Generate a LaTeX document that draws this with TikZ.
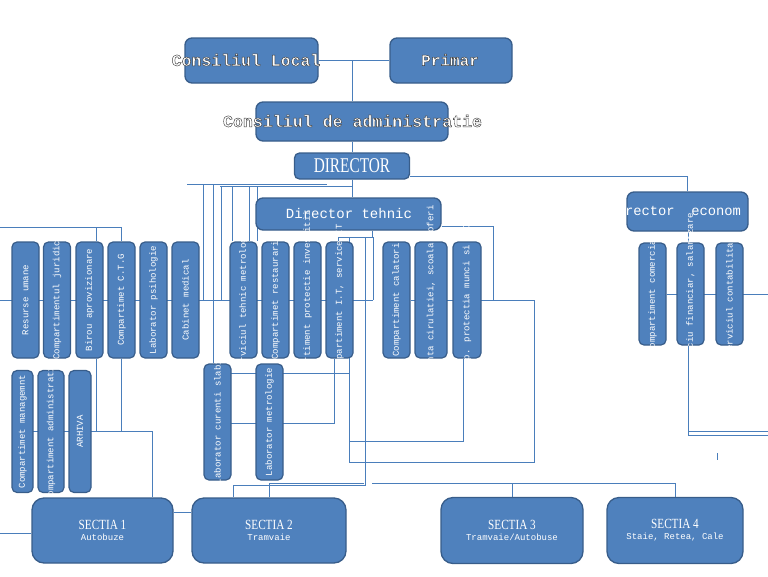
\documentclass[tikz,border=0pt]{standalone}
\usepackage{fontspec}
\usetikzlibrary{backgrounds}
\newfontfamily\monof{Liberation Mono}
\newfontfamily\condf[FakeStretch=0.73]{Liberation Serif}
\newfontfamily\sectf[FakeStretch=0.8]{Liberation Serif}
\definecolor{bfill}{HTML}{4F81BD}
\definecolor{bedge}{HTML}{385D8A}
\definecolor{lcol}{HTML}{4A7EBB}
\newcommand\olt[1]{\special{pdf:literal direct 2 Tr 0.45 w 0.25 0.25 0.25 RG}#1\special{pdf:literal direct 0 Tr}}
\newcommand\vlab[3]{\begin{scope}\clip ([xshift=-3pt]#1.south west) rectangle ([xshift=3pt,yshift=#2]#1.north east);\node[vlabel] at (#1) {#3};\end{scope}}
\begin{document}
\begin{tikzpicture}[x=1pt,y=-1pt,
  bigbox/.style={draw=bedge, fill=bfill, line width=1.3pt, rounded corners=7pt, inner sep=0pt, text=white},
  smallbox/.style={draw=bedge, fill=bfill, line width=1.2pt, rounded corners=5pt, inner sep=0pt},
  vlabel/.style={rotate=90, text=white, font=\monof\fontsize{9}{9}\selectfont, inner sep=0pt},
  conn/.style={draw=lcol, line width=0.9pt},
  titletext/.style={text=white, inner sep=0pt},
  sect/.style={bigbox, rounded corners=12pt, align=center}]
\useasboundingbox (0,0) rectangle (768,576);
% top boxes
\node[bigbox, minimum width=133pt, minimum height=45pt] (cl) at (251.5,60.5) {};
\node[titletext, font=\monof\bfseries\fontsize{16.5}{16.5}\selectfont] (cltxt) at (246,60) {\olt{Consiliul Local}};
\node[bigbox, minimum width=122pt, minimum height=45pt] (pr) at (451,60.5) {};
\node[titletext, font=\monof\bfseries\fontsize{16}{16}\selectfont] (prtxt) at (450,60) {\olt{Primar}};
\node[bigbox, minimum width=192pt, minimum height=39pt] (ca) at (352,121.5) {};
\node[titletext, font=\monof\bfseries\fontsize{16.6}{16.6}\selectfont] (catxt) at (352.5,121) {\olt{Consiliul de administratie}};
\node[bigbox, rounded corners=5pt, minimum width=115pt, minimum height=26pt, font=\condf\fontsize{21}{21}\selectfont] (dir) at (352,166) {DIRECTOR};
\node[bigbox, minimum width=185pt, minimum height=32pt] (dt) at (348.5,214) {};
\node[titletext, font=\monof\fontsize{14}{14}\selectfont] (dttxt) at (349,213) {Director tehnic};
\node[bigbox, minimum width=121pt, minimum height=39pt] (de) at (687.5,211.5) {};
\begin{scope}
\clip (627,180) rectangle (740,240);
\node[titletext, font=\monof\fontsize{13.8}{13.8}\selectfont] (detxt) at (683,211) {Director\ \ economic};
\end{scope}
% row 1
\foreach \n/\x in {r1/25.5, r2/57, r3/89.5, r4/121.5, r5/153.5, r6/185.5, r7/243.5, r8/275.5, r9/307.5, r10/339.5, r11/396.5}
  {\node[smallbox, minimum width=27pt, minimum height=116pt] (\n) at (\x,300) {};}
\node[smallbox, minimum width=32pt, minimum height=116pt] (r12) at (431,300) {};
\node[smallbox, minimum width=28pt, minimum height=116pt] (r13) at (467,300) {};
\foreach \n/\x in {r14/652.5, r15/690.5, r16/729.5}
  {\node[smallbox, minimum width=27pt, minimum height=102pt] (\n) at (\x,294) {};}
\vlab{r1}{60pt}{Resurse umane}
\vlab{r2}{60pt}{Compartimentul juridic}
\vlab{r3}{60pt}{Birou aprovizionare}
\vlab{r4}{60pt}{Compartimet C.T.G}
\vlab{r5}{60pt}{Laborator psihologie}
\vlab{r6}{60pt}{Cabinet medical}
\vlab{r7}{0pt}{Serviciul tehnic metrologie}
\vlab{r8}{60pt}{Compartimet restaurari}
\vlab{r9}{60pt}{Compartiment protectie investitii}
\vlab{r10}{60pt}{Compartiment I.T, service IT}
\vlab{r11}{60pt}{Compartiment calatori}
\vlab{r12}{60pt}{Siguranta cirulatiei, scoala soferi}
\vlab{r13}{60pt}{Comp. protectia munci si PSI}
\vlab{r14}{60pt}{Compartiment comercial}
\vlab{r15}{60pt}{Serviciu financiar, salarizare}
\vlab{r16}{60pt}{Serviciul contabilitate}
% row 2
\node[smallbox, minimum width=21pt, minimum height=122pt] (s1) at (22.5,431.5) {};
\node[smallbox, minimum width=26pt, minimum height=122pt] (s2) at (51,431.5) {};
\node[smallbox, minimum width=22pt, minimum height=122pt] (s3) at (80,431.5) {};
\node[smallbox, minimum width=27pt, minimum height=116pt] (l1) at (217.5,422) {};
\node[smallbox, minimum width=27pt, minimum height=116pt] (l2) at (269.5,422) {};
\vlab{s1}{0pt}{Compartimet managemnt}
\vlab{s2}{0pt}{Compartiment administrativ}
\vlab{s3}{0pt}{ARHIVA}
\vlab{l1}{0pt}{Laborator curenti slabi}
\vlab{l2}{0pt}{Laborator metrologie}
% sectii
\node[sect, minimum width=141pt, minimum height=65pt] (S1) at (102.5,530.5) {{\sectf\fontsize{14}{14}\selectfont SECTIA 1}\\[-1pt]{\monof\fontsize{9}{10}\selectfont Autobuze}};
\node[sect, minimum width=154pt, minimum height=65pt] (S2) at (269,530.5) {{\sectf\fontsize{14}{14}\selectfont SECTIA 2}\\[-1pt]{\monof\fontsize{9}{10}\selectfont Tramvaie}};
\node[sect, minimum width=142pt, minimum height=66pt] (S3) at (512,530.5) {{\sectf\fontsize{14}{14}\selectfont SECTIA 3}\\[-1pt]{\monof\fontsize{9}{10}\selectfont Tramvaie/Autobuse}};
\node[sect, minimum width=136pt, minimum height=66pt] (S4) at (675,530.5) {{\sectf\fontsize{14}{14}\selectfont SECTIA 4}\\[-1pt]{\monof\fontsize{9}{10}\selectfont Staie, Retea, Cale}};
% connectors
\begin{pgfonlayer}{background}
\draw[conn] (cl) -- (pr);
\coordinate (j1) at (352,60.5);
\draw[conn] (j1) -- (j1 |- ca.north);
\draw[conn] (ca.south) -- (dir.north);
\draw[conn] (dir.south) -- (dir.south |- dt.north);
\draw[conn] (dir.east |- 0,176) -| (de.north);
% bus under director
\draw[conn] (187,184) -- (327,184);
\draw[conn] (220,186) -- (dir.south |- 0,186);
\draw[conn] (203,184) -- (203,300);
\draw[conn] (213,184) -- (213,0 |- l1.north);
\draw[conn] (221,186) -- (221,300);
\draw[conn] (232,186) -- (232,0 |- r7.north);
\draw[conn] (249,186) -- (249,0 |- r7.north);
\draw[conn] (257,186) -- (257,0 |- r7.north);
% row 1 bus
\draw[conn] (0,300) -- (373,300);
\draw[conn] (0,227) -- (121,227);
\draw[conn] (96,227) -- (96,0 |- r3.north);
\draw[conn] (121,227) -- (121,0 |- r4.north);
\draw[conn] (96,0 |- r3.south) -- (96,431);
\draw[conn] (121,0 |- r4.south) -- (121,431);
\draw[conn] (s1.center |- 0,431) -- (152,431) -- (152,0 |- S1.north);
\draw[conn] (0,533) -- (S1.west |- 0,533);
\draw[conn] (S1.east |- 0,512) -- (S2.west |- 0,512);
% director tehnic links
\draw[conn] (372,0 |- dt.south) -- (372,237);
\draw[conn] (338,237) -- (373,237);
\draw[conn] (338,237) -- (338,0 |- r10.north);
\draw[conn] (373,237) -- (373,300);
\draw[conn] (349,237) -- (349,462) -- (534,462) -- (534,300) -- (r11);
\draw[conn] (dt.east |- 0,226) -| (493,300);
\draw[conn] (365,237) -- (365,485) -- (233,485) -- (233,0 |- S2.north);
\draw[conn] (364,483) -- (269,483) -- (269,0 |- S2.north);
\draw[conn] (372,483) -- (675,483) -- (S4.north);
\draw[conn] (512,483) -- (S3.north);
\draw[conn] (l1 |- 0,373) -- (349,373);
\draw[conn] (l1 |- 0,423) -- (334,423) -- (334,0 |- r10.south);
\draw[conn] (349,441) -- (463,441) -- (463,0 |- r13.south);
% economic
\draw[conn] (688,0 |- de.south) -- (688,0 |- r15.north);
\draw[conn] (r14) -- (768,294);
\draw[conn] (688,0 |- r15.south) -- (688,435) -- (768,435);
\draw[conn] (688,431) -- (768,431);
\draw[conn] (717,453) -- (717,460);
\end{pgfonlayer}
\end{tikzpicture}
\end{document}
